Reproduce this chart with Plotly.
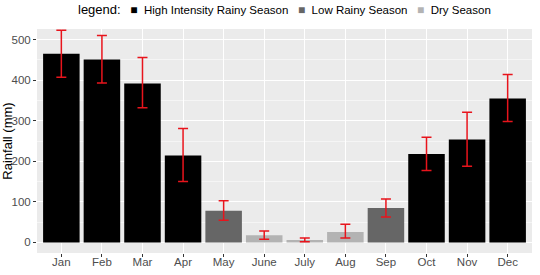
import plotly.graph_objects as go

months = ["Jan", "Feb", "Mar", "Apr", "May", "June", "July", "Aug", "Sep", "Oct", "Nov", "Dec"]
rainfall = [465, 451, 392, 214, 78, 18, 6, 26, 85, 218, 254, 355]
err_upper = [523, 510, 456, 281, 103, 28, 11, 45, 107, 259, 321, 414]
err_lower = [407, 393, 332, 150, 55, 8, 2, 11, 63, 177, 188, 298]
season = ["High Intensity Rainy Season"] * 4 + ["Low Rainy Season"] + ["Dry Season"] * 3 + \
         ["Low Rainy Season"] + ["High Intensity Rainy Season"] * 3

season_order = ["High Intensity Rainy Season", "Low Rainy Season", "Dry Season"]
season_colors = {"High Intensity Rainy Season": "#000000",
                 "Low Rainy Season": "#666666",
                 "Dry Season": "#B3B3B3"}

fig = go.Figure()
for s in season_order:
    idx = [i for i, v in enumerate(season) if v == s]
    fig.add_trace(go.Bar(
        x=[months[i] for i in idx],
        y=[rainfall[i] for i in idx],
        name=s,
        showlegend=False,
        marker=dict(color=season_colors[s], line=dict(width=0)),
        width=0.9,
        error_y=dict(type="data", symmetric=False,
                     array=[err_upper[i] - rainfall[i] for i in idx],
                     arrayminus=[rainfall[i] - err_lower[i] for i in idx],
                     color="#E8141C", thickness=1.5, width=5),
    ))

# legend drawn as a text line above the panel
sp = "&nbsp;"
legend_text = "<span style='font-size:13px'>legend:</span>" + sp * 3
legend_text += (sp * 3).join(
    f"<span style='color:{season_colors[s]};font-size:12px'>■</span>{sp*2}{s}"
    for s in season_order)

fig.add_annotation(text=legend_text, xref="paper", yref="paper",
                   x=0.5, y=1.0, xanchor="center", yanchor="bottom", yshift=10,
                   showarrow=False, font=dict(size=11.5, color="black"))

fig.update_layout(
    width=540, height=275,
    margin=dict(l=37, r=8, t=29, b=22),
    paper_bgcolor="white", plot_bgcolor="#EBEBEB",
    barmode="overlay",
    font=dict(family="Liberation Sans, Arial, sans-serif", size=11, color="#4D4D4D"),
    xaxis=dict(categoryorder="array", categoryarray=months, range=[-0.6, 11.6],
               showgrid=True, gridcolor="white", gridwidth=1,
               ticks="outside", ticklen=3, tickcolor="#333333",
               ticklabelstandoff=-5,
               tickfont=dict(size=11.5, color="#4D4D4D"), zeroline=False,
               automargin=False),
    yaxis=dict(range=[-26, 526], tickvals=[0, 100, 200, 300, 400, 500],
               showgrid=True, gridcolor="white", gridwidth=1,
               minor=dict(tickvals=[50, 150, 250, 350, 450], showgrid=True,
                          gridcolor="#F5F5F5", gridwidth=0.5),
               ticks="outside", ticklen=3, tickcolor="#333333",
               tickfont=dict(size=11.5, color="#4D4D4D"), zeroline=False,
               automargin=False,
               title=dict(text="Rainfall (mm)", font=dict(size=13, color="black"), standoff=0)),
)

fig.write_html("out.html", config={"displayModeBar": False},
               post_script="document.body.style.margin='0';")
